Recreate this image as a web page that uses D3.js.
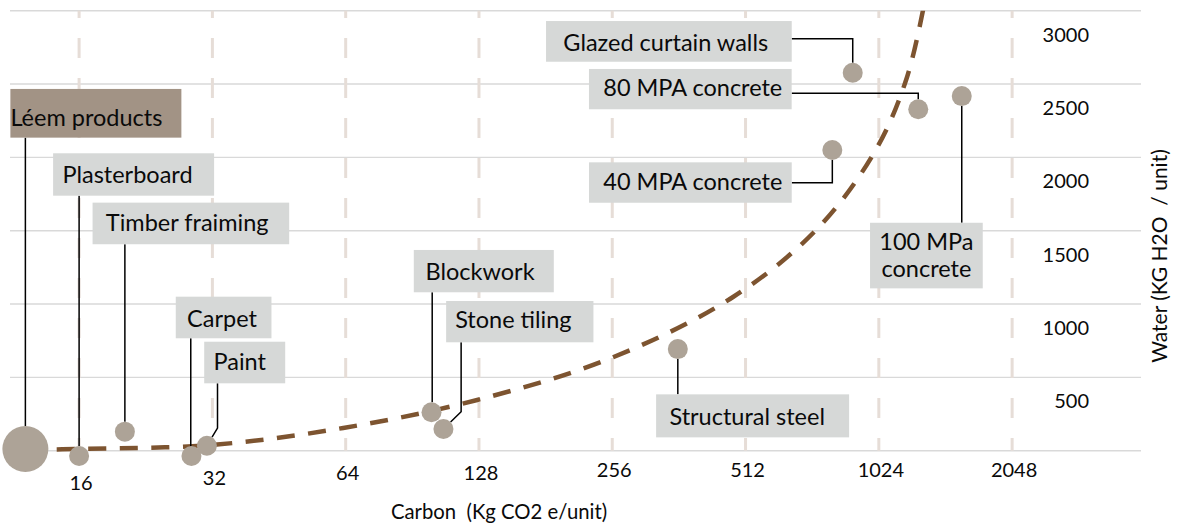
<!DOCTYPE html>
<html><head><meta charset="utf-8">
<script src="https://cdn.jsdelivr.net/npm/d3@7"></script>
<style>
body{margin:0;background:#fff}
svg{display:block}
text{font-family:Lato,"Open Sans",sans-serif;fill:#0a0a0a;white-space:pre}
</style></head>
<body><svg id="chart" width="1182" height="524"></svg>
<script>
// ---- data ----
const materials = ["Léem products","Plasterboard","Timber fraiming","Carpet","Paint","Blockwork","Stone tiling","Structural steel","Glazed curtain walls","80 MPA concrete","100 MPa concrete","40 MPA concrete"];
const carbon = [12.1, 16, 20.3, 28.7, 31.1, 100, 106.4, 360, 894, 1257, 1576, 804];
const water  = [12, -36, 130, -36, 34, 262, 148, 693, 2577, 2328, 2418, 2050];
const trendCarbon = [12.1, 16, 31.8, 63.2, 126.8, 254.4, 479.8, 746, 1009, 1186, 1307];
const trendWater  = [5, 12, 39, 155, 346, 632, 1048, 1518, 2054, 2548, 3100];
const xTickValues = [16, 32, 64, 128, 256, 512, 1024, 2048];
const yTickValues = [0, 500, 1000, 1500, 2000, 2500, 3000];
const xTitle = "Carbon  (Kg CO2 e/unit)";
const yTitle = "Water (KG H2O  / unit)";

// ---- layout ----
const svg = d3.select("#chart");
const x = d3.scaleLog().base(2).domain([11.17, 4003]).range([10, 1141]);
const y = d3.scaleLinear().domain([0, 3000]).range([450.7, 10.7]);
const radius = [23,10,10,10,10,10,10,10,10,10,10,10];
const LABEL_FS = 23.5;

// label annotation layout (box relative to point, leader path relative to point)
const labelLayout = [
  {box:[-15,-360,171,48.7], pad:0, base:37, fill:"#a29385", leader:[[0,-311.3],[0,0]]},
  {box:[-26,-302.7,161,42.4], pad:9.3, base:30, leader:[[0,-260.3],[0,0]]},
  {box:[-32.3,-229,196.6,41.6], pad:13.3, base:28, leader:[[0,-187.4],[0,0]]},
  {box:[-15.7,-159.3,95.7,41.6], pad:11.3, base:30, leader:[[-0.7,-117.7],[-0.7,-10],[0,0]]},
  {box:[-2.7,-104,81,41.6], pad:9.3, base:28.3, leader:[[10.6,-62.4],[10.6,-17.7],[0,0]]},
  {box:[-17.7,-162.3,140,42.3], pad:11.7, base:30, leader:[[0.7,-120],[0.7,-10],[0,0]]},
  {box:[2.7,-128,147.3,41.3], pad:9, base:27.3, leader:[[17.7,-86.7],[17.7,-17.3],[0,0]]},
  {box:[-21.7,45.3,193,43], pad:13.3, base:30.7, leader:[[0,45.3],[0,0]]},
  {box:[-306.7,-51.7,245.7,40.7], pad:17.3, base:29.7, leader:[[-61,-34],[0,-34],[0,0]]},
  {box:[-329.3,-40.3,202.7,40.3], pad:14.3, base:26.7, leader:[[-126.6,-16],[0,-16],[0,0]]},
  {box:[-91.7,126.7,112.7,65.6], center:true, lines:["100 MPa","concrete"], base:27.3, lineGap:26.7, leader:[[0,126.7],[0,0]]},
  {box:[-243.3,12.3,202.7,40.4], pad:14.3, base:27.7, leader:[[-40.6,32.7],[0,32.7],[0,0]]}
];

// clip for plot area
svg.append("defs").append("clipPath").attr("id","plot")
  .append("rect").attr("x",0).attr("y",10.7).attr("width",1182).attr("height",520);

// horizontal gridlines
svg.append("g").selectAll("line").data(yTickValues).join("line")
  .attr("x1",10).attr("x2",1141)
  .attr("y1",d=>y(d)).attr("y2",d=>y(d))
  .attr("stroke","#d9d9d9").attr("stroke-width",1.4);

// vertical dashed gridlines
svg.append("g").selectAll("line").data(xTickValues).join("line")
  .attr("x1",d=>x(d)).attr("x2",d=>x(d))
  .attr("y1",y(3000)).attr("y2",y(0))
  .attr("stroke","#e6ddd7").attr("stroke-width",3)
  .attr("stroke-dasharray","20,20").attr("stroke-dashoffset",12.7);

// y tick labels (offset below their gridlines as in the original)
svg.append("g").selectAll("text").data(yTickValues.filter(d=>d>0)).join("text")
  .attr("x",1089).attr("y",d=>y(d)+31).attr("text-anchor","end")
  .attr("font-size",20).text(d=>d);

// x tick labels
const xLabelDrop = {16:13, 32:8, 64:3, 128:3};
svg.append("g").selectAll("text").data(xTickValues).join("text")
  .attr("x",d=>x(d)+2).attr("y",d=>477+(xLabelDrop[d]||0)).attr("text-anchor","middle")
  .attr("font-size",20).text(d=>d);

// axis titles
svg.append("text").attr("x",499).attr("y",519).attr("text-anchor","middle")
  .attr("font-size",20.3).text(xTitle);
svg.append("text").attr("transform","translate(1167,256) rotate(-90)")
  .attr("text-anchor","middle").attr("font-size",21).text(yTitle);

// trend curve
const trend = trendCarbon.map((c,i)=>[c, trendWater[i]]);
svg.append("path").datum(trend)
  .attr("clip-path","url(#plot)")
  .attr("d", d3.line().x(d=>x(d[0])).y(d=>y(d[1])).curve(d3.curveCatmullRom.alpha(0.5)))
  .attr("fill","none").attr("stroke","#7d5430").attr("stroke-width",4.5)
  .attr("stroke-dasharray","18,13.5");

// points
const pts = materials.map((m,i)=>({name:m, px:x(carbon[i]), py:y(water[i]), r:radius[i], L:labelLayout[i]}));

// leader lines
svg.append("g").selectAll("path").data(pts).join("path")
  .attr("fill","none").attr("stroke","#000").attr("stroke-width",1.5)
  .attr("d", p=>{
    const P = p.L.leader.map(([dx,dy])=>[p.px+dx, p.py+dy]);
    const a = P[P.length-2], b = P[P.length-1];
    const len = Math.hypot(b[0]-a[0], b[1]-a[1]);
    const t = Math.max(0,(len - p.r)/len);
    P[P.length-1] = [a[0]+(b[0]-a[0])*t, a[1]+(b[1]-a[1])*t];
    return d3.line()(P);
  });

// circles
svg.append("g").selectAll("circle").data(pts).join("circle")
  .attr("cx",p=>p.px).attr("cy",p=>p.py).attr("r",p=>p.r)
  .attr("fill","#ada397");

// label boxes
const lab = svg.append("g").selectAll("g").data(pts).join("g")
  .attr("transform",p=>`translate(${p.px+p.L.box[0]},${p.py+p.L.box[1]})`);
lab.append("rect").attr("width",p=>p.L.box[2]).attr("height",p=>p.L.box[3])
  .attr("fill",p=>p.L.fill||"#d6d8d7");
lab.each(function(p){
  const g = d3.select(this);
  if (p.L.center) {
    p.L.lines.forEach((t,k)=>g.append("text").attr("x",p.L.box[2]/2).attr("y",p.L.base+k*p.L.lineGap)
      .attr("text-anchor","middle").attr("font-size",LABEL_FS).text(t));
  } else {
    g.append("text").attr("x",p.L.pad).attr("y",p.L.base).attr("font-size",LABEL_FS).text(p.name);
  }
});
</script></body></html>
